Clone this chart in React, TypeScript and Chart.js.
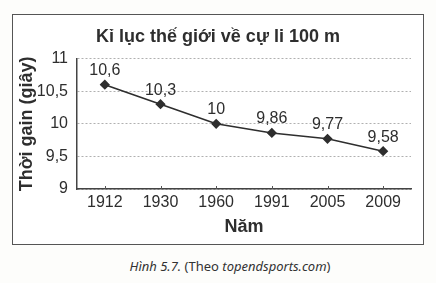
import React, { useEffect, useRef } from "react";
import { Chart, registerables } from "chart.js";

Chart.register(...registerables);

const years = ["1912", "1930", "1960", "1991", "2005", "2009"];
const times = [10.6, 10.3, 10.0, 9.86, 9.77, 9.58];
const yTicks = [9, 9.5, 10, 10.5, 11];
const chartTitle = "Kỉ lục thế giới về cự li 100 m";
const xTitle = "Năm";
const yTitle = "Thời gain (giây)";

const FONT = "'Liberation Sans', Arial, sans-serif";
const INK = "#2e2e2e";

const fmt = (v: number) => String(v).replace(".", ",");

const valueLabels = {
  id: "valueLabels",
  afterDatasetsDraw(chart: any) {
    const ctx = chart.ctx;
    const meta = chart.getDatasetMeta(0);
    const xs = chart.scales.x;
    const bottom = chart.chartArea.bottom;
    ctx.save();
    // small category tick marks on the x axis
    ctx.strokeStyle = "#555";
    ctx.lineWidth = 1;
    years.forEach((_, i) => {
      const x = Math.round(xs.getPixelForValue(i)) + 0.5;
      ctx.beginPath();
      ctx.moveTo(x, bottom);
      ctx.lineTo(x, bottom - 3);
      ctx.stroke();
    });
    ctx.font = `16px ${FONT}`;
    ctx.fillStyle = INK;
    ctx.textAlign = "center";
    ctx.textBaseline = "middle";
    meta.data.forEach((pt: any, i: number) => {
      ctx.fillText(fmt(times[i]), pt.x, pt.y - 14);
    });
    ctx.restore();
  },
};

export default function App() {
  const ref = useRef<HTMLCanvasElement>(null);
  useEffect(() => {
    if (!ref.current) return;
    const chart = new Chart(ref.current, {
      type: "line",
      data: {
        labels: years,
        datasets: [
          {
            data: times,
            borderColor: INK,
            backgroundColor: INK,
            borderWidth: 1.6,
            pointStyle: "rectRot",
            pointRadius: 4,
            pointBackgroundColor: INK,
            pointBorderColor: INK,
            tension: 0,
          },
        ],
      },
      options: {
        animation: false,
        responsive: false,
        maintainAspectRatio: false,
        layout: { padding: 0 },
        plugins: {
          legend: { display: false },
          tooltip: { enabled: false },
          title: {
            display: true,
            text: chartTitle,
            color: INK,
            font: { family: FONT, size: 18, weight: "bold", lineHeight: 1.2 },
            padding: { top: 11, bottom: 11 },
          },
        },
        scales: {
          x: {
            offset: true,
            grid: { display: false, drawTicks: false },
            border: { display: true, color: "#444", width: 1.5 },
            ticks: {
              color: INK,
              font: { family: FONT, size: 16 },
              padding: 4,
              maxRotation: 0,
            },
            title: {
              display: true,
              text: xTitle,
              color: INK,
              font: { family: FONT, size: 18, weight: "bold", lineHeight: 1.2 },
              padding: { top: 0, bottom: 6 },
            },
            afterFit: (s: any) => {
              s.height = 55;
            },
          },
          y: {
            min: 9,
            max: 11,
            afterBuildTicks: (s: any) => {
              s.ticks = yTicks.map((v) => ({ value: v }));
            },
            grid: {
              color: "#b0b0b0",
              lineWidth: 1,
              drawTicks: false,
            },
            border: { display: true, color: "#444", width: 1.5, dash: [2, 2] },
            ticks: {
              color: INK,
              font: { family: FONT, size: 16 },
              padding: 9,
              callback: (v: any) => fmt(Number(v)),
            },
            title: {
              display: true,
              text: yTitle,
              color: INK,
              font: { family: FONT, size: 18, weight: "bold", lineHeight: 1.2 },
              padding: { top: 3, bottom: 3 },
            },
            afterFit: (s: any) => {
              s.width = 64;
            },
          },
          yR: {
            position: "right",
            display: true,
            grid: { display: false, drawTicks: false },
            border: { display: false },
            ticks: { display: false },
            afterFit: (s: any) => {
              s.width = 12;
            },
          },
        },
      } as any,
      plugins: [valueLabels],
    });
    return () => chart.destroy();
  }, []);

  return (
    <div
      style={{
        position: "absolute",
        left: 0,
        top: 0,
        width: 436,
        height: 283,
        background: "#fdfdfb",
        overflow: "hidden",
      }}
    >
      <div
        style={{
          position: "absolute",
          left: 12,
          top: 14,
          width: 410,
          height: 229,
          border: "1px solid #555",
          background: "#fff",
        }}
      >
        <canvas ref={ref} width={410} height={229} style={{ display: "block" }} />
      </div>
      <div
        style={{
          position: "absolute",
          left: 0,
          top: 258,
          width: 460,
          textAlign: "center",
          fontFamily: "'Noto Sans', 'Open Sans', sans-serif",
          fontSize: 13,
          lineHeight: "17px",
          color: "#333",
        }}
      >
        <i>Hình 5.7.</i> (Theo <i>topendsports.com</i>)
      </div>
    </div>
  );
}
